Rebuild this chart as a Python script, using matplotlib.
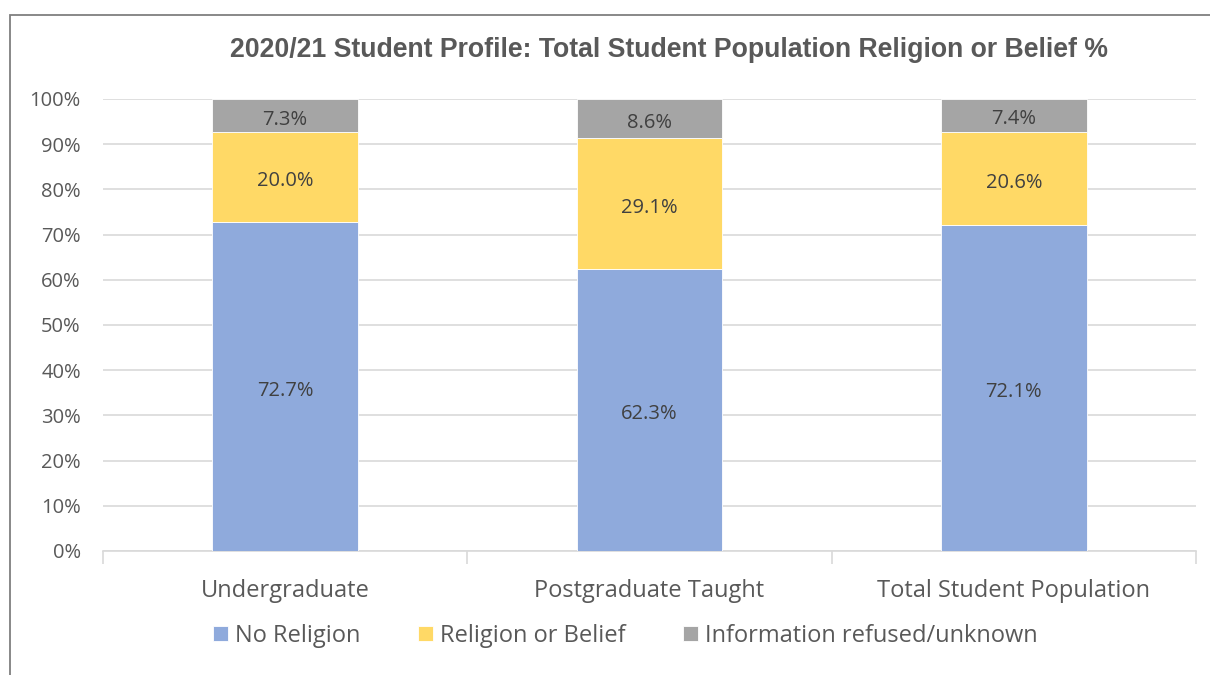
import numpy as np
import matplotlib.pyplot as plt
from matplotlib.patches import Rectangle
from matplotlib.ticker import MultipleLocator, FuncFormatter

# Student population by religion or belief, 2020/21 (%)
groups = ['Undergraduate', 'Postgraduate Taught', 'Total Student Population']
no_religion = [72.7, 62.3, 72.1]
religion_belief = [20.0, 29.1, 20.6]
refused_unknown = [7.3, 8.6, 7.4]

series = [
    ('No Religion', no_religion, '#8FAADC'),
    ('Religion or Belief', religion_belief, '#FFD966'),
    ('Information refused/unknown', refused_unknown, '#A5A5A5'),
]

text_col = '#595959'
grid_col = '#D9D9D9'
body_font = ['Open Sans', 'DejaVu Sans']

fig = plt.figure(figsize=(12.1, 6.75), dpi=100)
W, H = 1210, 675

# chart frame
fig.patches.append(Rectangle((10 / W, -0.1), 1.2, 1 - 15 / H + 0.1,
                             transform=fig.transFigure, fill=False,
                             edgecolor='#7F7F7F', linewidth=1.3))

ax = fig.add_axes([103 / W, 1 - 551 / H, (1196 - 103) / W, (551 - 99) / H])

x = np.arange(len(groups))
bottom = np.zeros(len(groups))
handles = []
for name, vals, col in series:
    vals = np.array(vals)
    b = ax.bar(x, vals, width=0.4, bottom=bottom, color=col, label=name,
               edgecolor='white', linewidth=0.6, zorder=3)
    handles.append(b)
    for xi, v, b0 in zip(x, vals, bottom):
        ax.annotate(f'{v:.1f}%', (xi, b0 + v / 2), xytext=(0, -3),
                    textcoords='offset points', ha='center', va='center',
                    fontsize=14.5, color='#404040', family=body_font, zorder=4)
    bottom += vals

ax.set_xlim(-0.5, len(groups) - 0.5)
ax.set_ylim(0, 100)
ax.yaxis.set_major_locator(MultipleLocator(10))
ax.yaxis.set_major_formatter(FuncFormatter(lambda v, _: f'{v:.0f}%'))
ax.grid(axis='y', color=grid_col, linewidth=1.2, zorder=0)

for s in ['top', 'right', 'left']:
    ax.spines[s].set_visible(False)
ax.spines['bottom'].set_color(grid_col)
ax.spines['bottom'].set_linewidth(1.2)

ax.tick_params(axis='y', length=0, pad=16, labelsize=14.5, labelcolor=text_col)
ax.set_xticks(x)
ax.set_xticklabels(groups)
ax.tick_params(axis='x', length=0, pad=20, labelsize=17, labelcolor=text_col)
ax.set_xticks(np.arange(-0.5, len(groups)), minor=True)
ax.tick_params(axis='x', which='minor', length=9, color=grid_col, width=1.2)
for lbl in ax.get_yticklabels() + ax.get_xticklabels():
    lbl.set_family(body_font)

fig.text(0.553, 1 - 50 / H, '2020/21 Student Profile: Total Student Population Religion or Belief %',
         ha='center', va='center', fontsize=19.2, fontweight='bold',
         color=text_col, family=['Liberation Sans', 'DejaVu Sans'])

leg = fig.legend(handles=handles, loc='center', bbox_to_anchor=(0.517, 1 - 636 / H),
                 ncol=3, frameon=False, handlelength=0.62, handleheight=0.62,
                 handletextpad=0.3, columnspacing=2.45,
                 prop={'family': body_font, 'size': 17})
for t in leg.get_texts():
    t.set_color(text_col)

fig.savefig('out.png', dpi=100, facecolor='white')
